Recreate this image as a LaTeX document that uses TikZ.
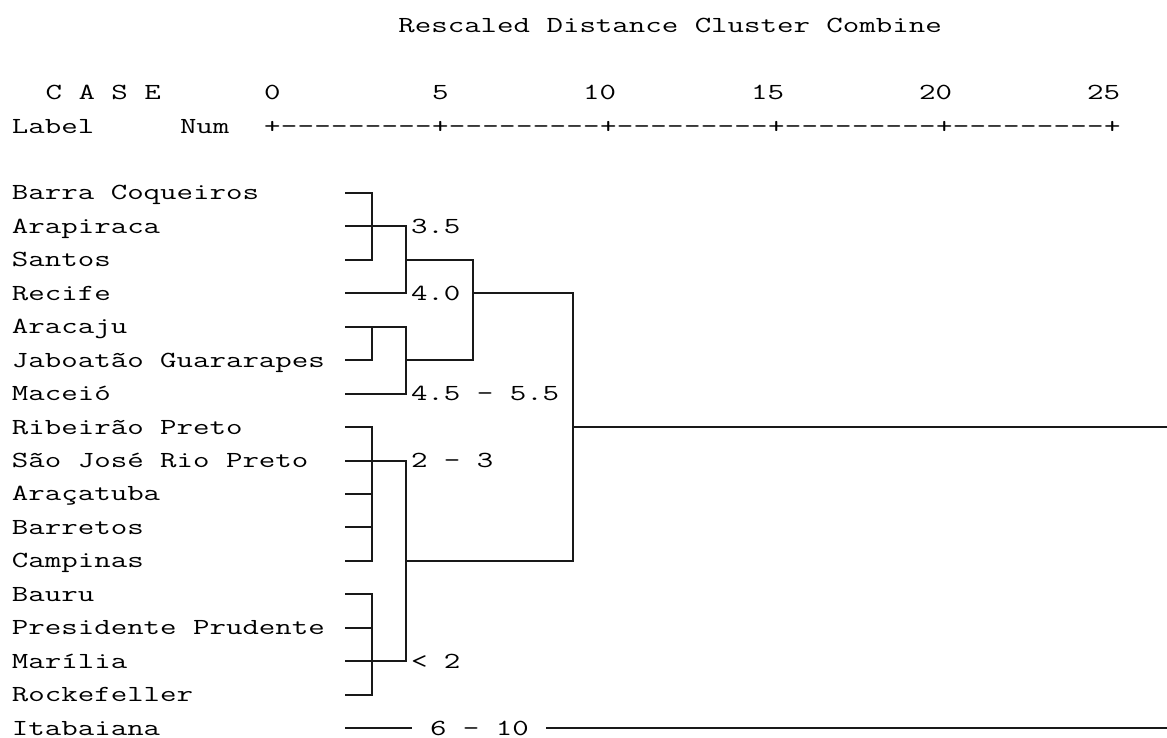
\documentclass[tikz,border=0pt]{standalone}
\usepackage{graphicx}
\newcommand{\mono}[1]{\scalebox{1.39}[1]{\fontsize{23}{23}\selectfont\ttfamily #1}}
\begin{document}
\begin{tikzpicture}[x=1pt,y=-1pt,
  txt/.style={anchor=base west,inner sep=0pt,outer sep=0pt,text=black},
  ln/.style={line width=2pt,black!90,line cap=rect}]
\useasboundingbox (0,0) rectangle (1167,738);
% header (row k: center y = 193+33.44*(k-5), baseline +7)
\node[txt] (title) at (398.4,32.8) {\mono{Rescaled Distance Cluster Combine}};
\node[txt] (case) at (45.6,99.7) {\mono{C A S E}};
\foreach \v/\c in {0/15,5/25,10/34,15/44,20/54,25/64}
  \node[txt] (n\v) at ({12+16.8*\c},99.7) {\mono{\v}};
\node[txt] (lab) at (12,133.1) {\mono{Label}};
\node[txt] (num) at (180,133.1) {\mono{Num}};
\foreach \c in {15,...,65}{
  \pgfmathtruncatemacro\m{mod(\c-15,10)}
  \ifnum\m=0 \node[txt] (r\c) at ({12+16.8*\c},133.1) {\mono{+}};
  \else \node[txt] (r\c) at ({12+16.8*\c},133.1) {\mono{-}};\fi
}
% case labels and leaf starts
\foreach \t [count=\i from 5] in {Barra Coqueiros,Arapiraca,Santos,Recife,Aracaju,Jaboatão Guararapes,Maceió,Ribeirão Preto,São José Rio Preto,Araçatuba,Barretos,Campinas,Bauru,Presidente Prudente,Marília,Rockefeller,Itabaiana}{
  \node[txt] (l\i) at (12,{193+33.44*(\i-5)+7}) {\mono{\t}};
  \coordinate (s\i) at (346,{round(193+33.44*(\i-5))});
}
\coordinate (v1) at (372,0);
\coordinate (v2) at (406,0);
\coordinate (v3) at (473,0);
\coordinate (v4) at (573,0);
\coordinate (re) at (1167,0);
% distance labels
\node[txt] (d35) at (411,{193+33.44*1+7}) {\mono{3.5}};
\node[txt] (d40) at (411,{193+33.44*3+7}) {\mono{4.0}};
\node[txt] (d45) at (411,{193+33.44*6+7}) {\mono{4.5 - 5.5}};
\node[txt] (d23) at (411,{193+33.44*8+7}) {\mono{2 - 3}};
\node[txt] (d2) at (411,{193+33.44*14+7}) {\mono{< 2}};
\node[txt] (d610) at (430,{193+33.44*16+7}) {\mono{6 - 10}};
% cluster 1
\draw[ln] (s5) -- (s5 -| v1) -- (s7 -| v1) -- (s7);
\draw[ln] (s6) -- (s6 -| v2) -- (s8 -| v2) -- (s8);
\draw[ln] (s7 -| v2) -- (s7 -| v3) -- (s10 -| v3);
\draw[ln] (s9) -- (s9 -| v2) -- (s11 -| v2) -- (s11);
\draw[ln] (s9 -| v1) -- (s10 -| v1) -- (s10);
\draw[ln] (s10 -| v2) -- (s10 -| v3);
\draw[ln] (s8 -| v3) -- (s8 -| v4) -- (s16 -| v4);
\draw[ln] (s12 -| v4) -- (s12 -| re);
% cluster 2
\draw[ln] (s12) -- (s12 -| v1) -- (s16 -| v1) -- (s16);
\draw[ln] (s14) -- (s14 -| v1);
\draw[ln] (s15) -- (s15 -| v1);
\draw[ln] (s13) -- (s13 -| v2) -- (s19 -| v2) -- (s19);
\draw[ln] (s17) -- (s17 -| v1) -- (s20 -| v1) -- (s20);
\draw[ln] (s18) -- (s18 -| v1);
\draw[ln] (s16 -| v2) -- (s16 -| v4);
% Itabaiana
\coordinate (ia) at (411,{round(193+33.44*16)});
\coordinate (ib) at (547,{round(193+33.44*16)});
\draw[ln] (s21) -- (ia);
\draw[ln] (ib) -- (s21 -| re);
\end{tikzpicture}
\end{document}
